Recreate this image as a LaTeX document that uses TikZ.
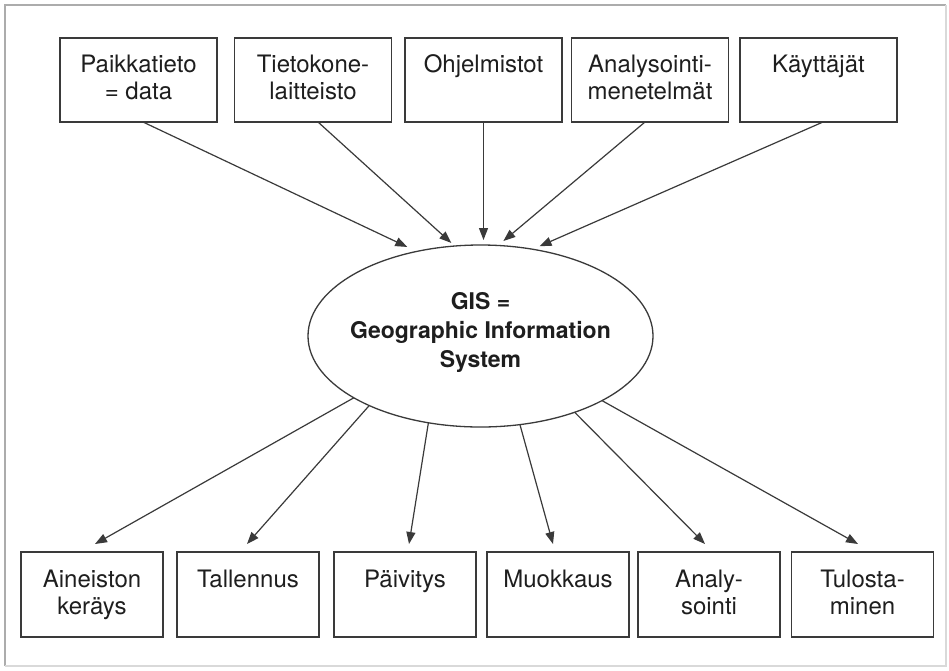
\documentclass[tikz,border=0pt]{standalone}
\usepackage{fontspec}
\setmainfont{TeX Gyre Heros}
\usetikzlibrary{arrows.meta,shapes.geometric}
\definecolor{ink}{HTML}{1E1E1E}
\definecolor{edge}{HTML}{3A3A3A}
% fixed line height / depth so every box sets its first line at the same place
\newcommand\gisTop{\rule{0pt}{18pt}}
\newcommand\gisBot{\rule[-6pt]{0pt}{6pt}}
\begin{document}
\begin{tikzpicture}[x=1pt,y=-1pt,
  box/.style={draw=edge, line width=1.4pt, minimum width=157pt, minimum height=84pt,
    inner sep=0pt, outer sep=0pt, align=center, text=ink,
    font=\fontsize{24}{27}\selectfont},
  lowbox/.style={box, minimum width=142pt, minimum height=85pt},
  core/.style={draw=edge, line width=1.3pt, ellipse, minimum width=345pt,
    minimum height=182pt, inner sep=0pt, outer sep=0pt},
  coretext/.style={inner sep=0pt, align=center, text=ink,
    font=\bfseries\fontsize{23}{29}\selectfont},
  arr/.style={draw=edge, line width=1.2pt, -{Triangle[length=12pt,width=9pt]}},
]
\useasboundingbox (0,0) rectangle (949,670);
\fill[white] (0,0) rectangle (949,670);

% outer frame
\draw[gray!65, line width=1.5pt] (5,666) -- (5,5) -- (946,5);
\draw[gray!30, line width=1.2pt] (946,5) -- (946,666) -- (5,666);

% components
\node[box] (p1) at (138.5,80) {\gisTop Paikkatieto\\= data\gisBot};
\node[box] (p2) at (313,80)   {\gisTop Tietokone-\\laitteisto\gisBot};
\node[box] (p3) at (483.5,80) {\gisTop Ohjelmistot\\\gisBot};
\node[box] (p4) at (650,80)   {\gisTop Analysointi-\\menetelmät\gisBot};
\node[box] (p5) at (818.5,80) {\gisTop Käyttäjät\\\gisBot};

% central ellipse
\node[core] (gis) at (480.5,336) {};
\node[coretext] (gislabel) at (480.5,332)
  {\gisTop GIS =\\Geographic Information\\System\gisBot};

% functions
\node[lowbox] (a1) at (92,594.5)    {\gisTop Aineiston\\keräys\gisBot};
\node[lowbox] (a2) at (248,594.5)   {\gisTop Tallennus\\\gisBot};
\node[lowbox] (a3) at (405,594.5)   {\gisTop Päivitys\\\gisBot};
\node[lowbox] (a4) at (558,594.5)   {\gisTop Muokkaus\\\gisBot};
\node[lowbox] (a5) at (709,594.5)   {\gisTop Analy-\\sointi\gisBot};
\node[lowbox] (a6) at (862.5,594.5) {\gisTop Tulosta-\\minen\gisBot};

% inputs
\draw[arr, shorten >=10.5pt] ([xshift=4.5pt]p1.south) -- (gis.127.1);
\draw[arr, shorten >=4.6pt]  ([xshift=5pt]p2.south) -- (gis.106.8);
\draw[arr, shorten >=5pt]    (p3.south) -- (p3.south |- gis.north);
\draw[arr, shorten >=6.9pt]  ([xshift=-5pt]p4.south) -- (gis.79.9);
\draw[arr, shorten >=7.5pt]  ([xshift=4.5pt]p5.south) -- (gis.59.8);

% outputs
\draw[arr] (gis.206.7) -- ([shift={(3pt,8pt)}]a1.north);
\draw[arr] (gis.212.7) -- ([shift={(-1pt,8pt)}]a2.north);
\draw[arr] (gis.239.7) -- ([shift={(4pt,8pt)}]a3.north);
\draw[arr] (gis.294.8) -- ([shift={(-5pt,8pt)}]a4.north);
\draw[arr] (gis.321.3) -- ([shift={(-4pt,8pt)}]a5.north);
\draw[arr] (gis.332.8) -- ([shift={(-4.5pt,8pt)}]a6.north);
\end{tikzpicture}
\end{document}
